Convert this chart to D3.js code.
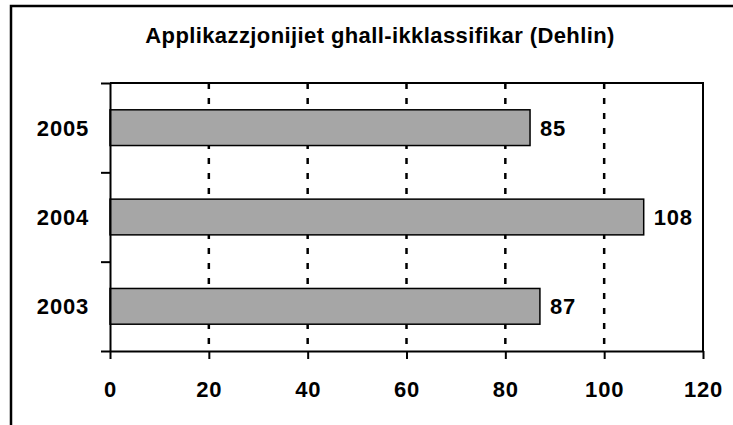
<!DOCTYPE html>
<html>
<head>
<meta charset="utf-8">
<script src="https://cdn.jsdelivr.net/npm/d3@7"></script>
<style>
  html, body { margin: 0; padding: 0; background: #fff; overflow: hidden; }
  svg { display: block; }
  text { font-family: Arial, "Liberation Sans", sans-serif; font-weight: bold; fill: #000; }
</style>
</head>
<body>
<div id="chart"></div>
<script>
// data
var years = ["2005", "2004", "2003"];
var counts = [85, 108, 87];
var xTicks = [0, 20, 40, 60, 80, 100, 120];
var title = "Applikazzjonijiet ghall-ikklassifikar (Dehlin)";

var width = 733, height = 425;
var margin = { top: 83, right: 30, bottom: 74, left: 110 };
var labelSize = "22px";

var svg = d3.select("#chart")
            .append("svg")
            .attr("width", width)
            .attr("height", height);

// outer frame, only top and left show in the source
svg.append("rect")
   .attr("x", 11).attr("y", 6)
   .attr("width", width).attr("height", height)
   .attr("fill", "none")
   .attr("stroke", "#000")
   .attr("stroke-width", 2.5);

svg.append("text")
   .attr("x", 380).attr("y", 43)
   .attr("text-anchor", "middle")
   .style("font-size", "22px")
   .style("letter-spacing", "0.4px")
   .text(title);

var x = d3.scaleLinear()
          .domain([0, 120])
          .range([margin.left, width - margin.right]);

var y = d3.scaleBand()
          .domain(years)
          .range([margin.top, height - margin.bottom])
          .paddingInner(0.6)
          .paddingOuter(0.3);

var yEdge = d3.scaleLinear()
              .domain([0, years.length])
              .range([margin.top, height - margin.bottom]);

// dotted gridlines
svg.append("g")
   .selectAll("line")
   .data(xTicks.slice(1, -1))
   .enter()
   .append("line")
   .attr("x1", function(d) { return x(d); })
   .attr("x2", function(d) { return x(d); })
   .attr("y1", margin.top)
   .attr("y2", height - margin.bottom)
   .attr("stroke", "#000")
   .attr("stroke-width", 2.5)
   .attr("stroke-dasharray", "6,9");

// plot frame top/right
svg.append("path")
   .attr("d", "M" + x(0) + "," + margin.top + "H" + x(120) + "V" + (height - margin.bottom))
   .attr("fill", "none")
   .attr("stroke", "#000")
   .attr("stroke-width", 2);

svg.append("g")
   .selectAll("rect")
   .data(counts)
   .enter()
   .append("rect")
   .attr("x", x(0))
   .attr("y", function(d, i) { return y(years[i]); })
   .attr("width", function(d) { return x(d) - x(0); })
   .attr("height", y.bandwidth())
   .attr("fill", "#a6a6a6")
   .attr("stroke", "#000")
   .attr("stroke-width", 1.5);

svg.append("g")
   .selectAll("text")
   .data(counts)
   .enter()
   .append("text")
   .attr("x", function(d) { return x(d) + 10; })
   .attr("y", function(d, i) { return y(years[i]) + y.bandwidth() / 2; })
   .attr("dy", "0.36em")
   .style("font-size", labelSize)
   .style("letter-spacing", "0.8px")
   .text(function(d) { return d; });

var xAxis = svg.append("g")
   .attr("transform", "translate(0," + (height - margin.bottom) + ")")
   .call(d3.axisBottom(x).tickValues(xTicks).tickSize(8).tickPadding(22).tickSizeOuter(0));

var yAxis = svg.append("g")
   .attr("transform", "translate(" + margin.left + ",0)")
   .call(d3.axisLeft(yEdge).tickValues([0, 1, 2, 3]).tickFormat("").tickSize(9).tickSizeOuter(0));

[xAxis, yAxis].forEach(function(g) {
  g.select(".domain").attr("stroke-width", 2);
  g.selectAll(".tick line").attr("stroke-width", 2);
  g.selectAll("text")
   .style("font-size", labelSize)
   .style("letter-spacing", "0.8px")
   .attr("font-family", null);
});

svg.append("g")
   .selectAll("text")
   .data(years)
   .enter()
   .append("text")
   .attr("x", 89)
   .attr("y", function(d) { return y(d) + y.bandwidth() / 2; })
   .attr("dy", "0.36em")
   .attr("text-anchor", "end")
   .style("font-size", labelSize)
   .style("letter-spacing", "0.8px")
   .text(function(d) { return d; });
</script>
</body>
</html>
